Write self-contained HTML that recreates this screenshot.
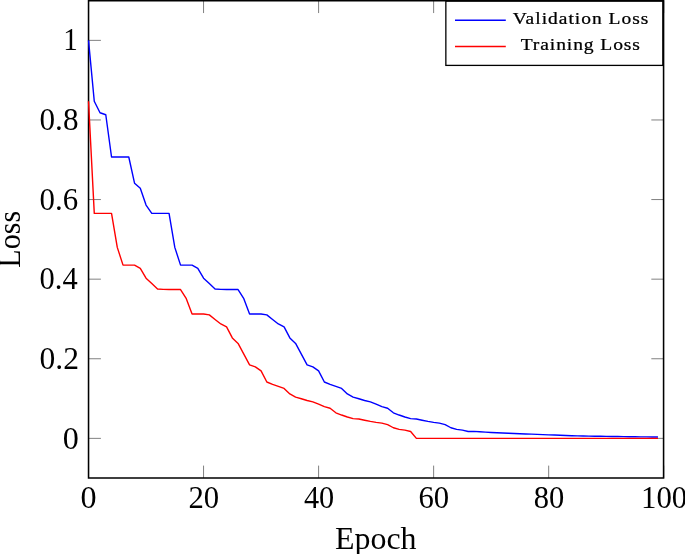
<!DOCTYPE html>
<html><head><meta charset="utf-8"><style>
html,body{margin:0;padding:0;background:#fff;}
body{width:685px;height:554px;overflow:hidden;}
svg{display:block;will-change:transform;}
text{font-family:"Liberation Serif", serif;}
</style></head><body>
<svg width="685" height="554" viewBox="0 0 685 554">
<rect x="0" y="0" width="685" height="554" fill="#fff"/>
<path d="M88.54,0.65 H663.58 V478.0 H88.54 Z" fill="none" stroke="#000" stroke-width="1.55"/>
<g stroke="#000" stroke-width="0.5">
<line x1="88.52" y1="438.36" x2="100.92" y2="438.36"/>
<line x1="651.32" y1="438.36" x2="663.72" y2="438.36"/>
<line x1="88.52" y1="358.76" x2="100.92" y2="358.76"/>
<line x1="651.32" y1="358.76" x2="663.72" y2="358.76"/>
<line x1="88.52" y1="279.16" x2="100.92" y2="279.16"/>
<line x1="651.32" y1="279.16" x2="663.72" y2="279.16"/>
<line x1="88.52" y1="199.56" x2="100.92" y2="199.56"/>
<line x1="651.32" y1="199.56" x2="663.72" y2="199.56"/>
<line x1="88.52" y1="119.96" x2="100.92" y2="119.96"/>
<line x1="651.32" y1="119.96" x2="663.72" y2="119.96"/>
<line x1="88.52" y1="40.36" x2="100.92" y2="40.36"/>
<line x1="651.32" y1="40.36" x2="663.72" y2="40.36"/>
<line x1="88.52" y1="478.0" x2="88.52" y2="465.60"/>
<line x1="88.52" y1="0.65" x2="88.52" y2="13.05"/>
<line x1="203.56" y1="478.0" x2="203.56" y2="465.60"/>
<line x1="203.56" y1="0.65" x2="203.56" y2="13.05"/>
<line x1="318.60" y1="478.0" x2="318.60" y2="465.60"/>
<line x1="318.60" y1="0.65" x2="318.60" y2="13.05"/>
<line x1="433.64" y1="478.0" x2="433.64" y2="465.60"/>
<line x1="433.64" y1="0.65" x2="433.64" y2="13.05"/>
<line x1="548.68" y1="478.0" x2="548.68" y2="465.60"/>
<line x1="548.68" y1="0.65" x2="548.68" y2="13.05"/>
<line x1="663.72" y1="478.0" x2="663.72" y2="465.60"/>
<line x1="663.72" y1="0.65" x2="663.72" y2="13.05"/>
</g>
<g fill="none" stroke-linejoin="round" stroke-width="1.4">
<polyline stroke="#0000ff" points="88.52,40.36 94.27,101.25 100.02,112.78 105.78,114.77 111.53,157.00 117.28,157.00 123.03,157.00 128.78,157.00 134.54,183.17 140.29,188.34 146.04,205.05 151.79,213.40 157.54,213.40 163.30,213.40 169.05,213.40 174.80,247.40 180.55,265.10 186.30,265.10 192.06,265.10 197.81,268.28 203.56,278.22 209.31,283.59 215.06,288.96 220.82,289.36 226.57,289.52 232.32,289.52 238.07,289.52 243.82,298.71 249.58,314.02 255.33,314.02 261.08,314.02 266.83,314.89 272.58,319.47 278.34,323.96 284.09,326.90 289.84,337.88 295.59,343.45 301.34,354.19 307.10,364.92 312.85,366.91 318.60,370.89 324.35,382.02 330.10,384.41 335.86,386.40 341.61,388.39 347.36,393.96 353.11,397.14 358.86,398.73 364.62,400.52 370.37,401.91 376.12,404.10 381.87,406.68 387.62,408.27 393.38,412.81 399.13,415.03 404.88,417.02 410.63,418.61 416.38,419.01 422.14,420.20 427.89,421.40 433.64,422.39 439.39,423.11 445.14,424.58 450.90,427.76 456.65,429.35 462.40,430.15 468.15,431.46 473.90,431.40 479.66,431.77 485.41,432.13 491.16,432.50 496.91,432.75 502.66,433.00 508.42,433.24 514.17,433.47 519.92,433.70 525.67,433.93 531.42,434.15 537.18,434.38 542.93,434.61 548.68,434.84 554.43,435.07 560.18,435.30 565.94,435.54 571.69,435.73 577.44,435.85 583.19,435.97 588.94,436.08 594.70,436.20 600.45,436.29 606.20,436.38 611.95,436.47 617.70,436.56 623.46,436.64 629.21,436.71 634.96,436.78 640.71,436.85 646.46,436.91 652.22,436.95 657.97,437.00"/>
<polyline stroke="#ff0000" points="88.52,101.25 94.27,213.40 100.02,213.40 105.78,213.40 111.53,213.40 117.28,247.40 123.03,265.10 128.78,265.10 134.54,265.10 140.29,268.28 146.04,278.22 151.79,283.59 157.54,288.96 163.30,289.36 169.05,289.52 174.80,289.52 180.55,289.52 186.30,298.71 192.06,314.02 197.81,314.02 203.56,314.02 209.31,314.89 215.06,319.47 220.82,323.96 226.57,326.90 232.32,337.88 238.07,343.45 243.82,354.19 249.58,364.92 255.33,366.91 261.08,370.89 266.83,382.02 272.58,384.41 278.34,386.40 284.09,388.39 289.84,393.96 295.59,397.14 301.34,398.73 307.10,400.52 312.85,401.91 318.60,404.10 324.35,406.68 330.10,408.27 335.86,412.81 341.61,415.03 347.36,417.02 353.11,418.61 358.86,419.01 364.62,420.20 370.37,421.40 376.12,422.39 381.87,423.11 387.62,424.58 393.38,427.76 399.13,429.35 404.88,430.15 410.63,431.46 416.38,438.36 422.14,438.36 427.89,438.36 433.64,438.36 439.39,438.36 445.14,438.36 450.90,438.36 456.65,438.36 462.40,438.36 468.15,438.36 473.90,438.36 479.66,438.36 485.41,438.36 491.16,438.36 496.91,438.36 502.66,438.36 508.42,438.36 514.17,438.36 519.92,438.36 525.67,438.36 531.42,438.36 537.18,438.36 542.93,438.36 548.68,438.36 554.43,438.36 560.18,438.36 565.94,438.36 571.69,438.36 577.44,438.36 583.19,438.36 588.94,438.36 594.70,438.36 600.45,438.36 606.20,438.36 611.95,438.36 617.70,438.36 623.46,438.36 629.21,438.36 634.96,438.36 640.71,438.36 646.46,438.36 652.22,438.36 657.97,438.36"/>
</g>
<g fill="#000">
<text transform="translate(39.54,368.79) scale(1.0519,1.0343)" font-size="30">0.2</text>
<text transform="translate(39.58,289.19) scale(1.0167,1.0343)" font-size="30">0.4</text>
<text transform="translate(39.56,209.59) scale(1.0297,1.0343)" font-size="30">0.6</text>
<text transform="translate(39.55,129.99) scale(1.0385,1.0343)" font-size="30">0.8</text>
<text transform="translate(62.76,448.55) scale(1.0714,1.0420)" font-size="30">0</text>
<text transform="translate(63.18,50.01) scale(0.9714,1.0178)" font-size="30">1</text>
<text transform="translate(80.51,507.99) scale(1.0714,1.0321)" font-size="30">0</text>
<text transform="translate(188.43,508.09) scale(1.0237,1.0420)" font-size="30">20</text>
<text transform="translate(418.51,508.09) scale(1.0237,1.0420)" font-size="30">60</text>
<text transform="translate(533.71,508.09) scale(1.0181,1.0420)" font-size="30">80</text>
<text transform="translate(303.89,508.08) scale(1.0106,1.0568)" font-size="30">40</text>
<text transform="translate(640.99,507.89) scale(1.0277,1.0321)" font-size="30">100</text>
<text transform="translate(335.04,548.70) scale(1.0637,1.0585)" font-size="30">Epoch</text>
<text transform="translate(20.30,267.70) rotate(-90) scale(1.0027,1.0410)" font-size="30">Loss</text>
</g>
<rect x="445.85" y="1.2" width="216.95" height="64.20" fill="#fff" stroke="#000" stroke-width="1.3"/>
<line x1="455" y1="20.25" x2="505.8" y2="20.25" stroke="#0000ff" stroke-width="1.4"/>
<line x1="455" y1="46.45" x2="505.8" y2="46.45" stroke="#ff0000" stroke-width="1.4"/>
<g fill="#000">
<text transform="translate(512.71,23.75) scale(1.1457,0.9548)" font-size="17" letter-spacing="0.876" stroke="#000" stroke-width="0.25">Validation Loss</text>
<text transform="translate(520.71,49.90) scale(1.1511,0.9593)" font-size="17" letter-spacing="0.779" stroke="#000" stroke-width="0.25">Training Loss</text>
</g>
</svg>
</body></html>
